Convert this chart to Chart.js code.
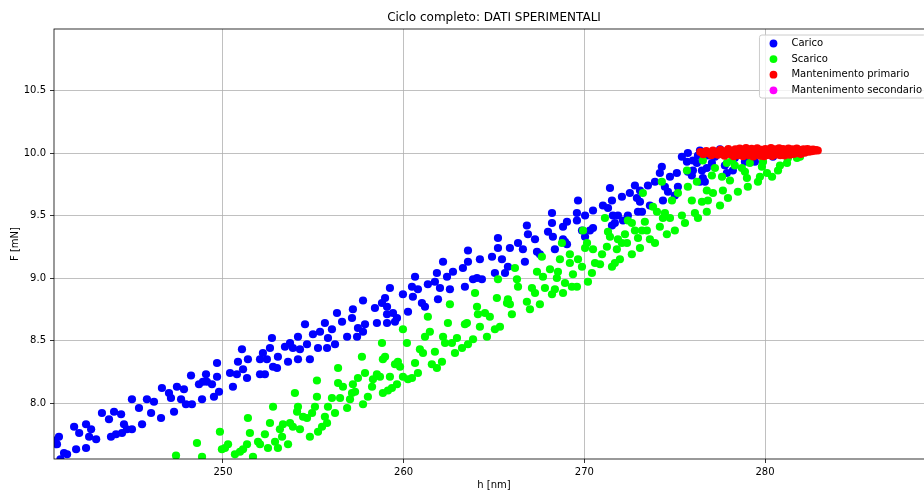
<!DOCTYPE html>
<html>
<head>
<meta charset="utf-8">
<script src="https://cdn.jsdelivr.net/npm/chart.js@4.4.0/dist/chart.umd.min.js"></script>
<style>
  html, body { margin: 0; padding: 0; background: #fff; overflow: hidden; }
  #wrap { width: 1000px; height: 491px; }
</style>
</head>
<body>
<div id="wrap"><canvas id="chart" width="1000" height="491"></canvas></div>
<script>
// [h (nm), F (mN)]
const carico = [
  [240.72, 7.70], [241.00, 7.55], [240.92, 7.73], [240.81, 7.67], [241.20, 7.60], [241.37, 7.59],
  [241.87, 7.63], [242.42, 7.64], [241.76, 7.81], [242.04, 7.76], [242.42, 7.83], [242.70, 7.79],
  [242.59, 7.73], [242.98, 7.71], [243.30, 7.92], [243.69, 7.87], [243.97, 7.93], [244.36, 7.91],
  [243.80, 7.73], [244.08, 7.75], [244.52, 7.83], [244.41, 7.76], [244.68, 7.79], [244.96, 7.79],
  [244.96, 8.03], [245.35, 7.96], [245.52, 7.83], [245.79, 8.03], [246.18, 8.01], [246.02, 7.92],
  [246.57, 7.88], [246.62, 8.12], [247.01, 8.08], [247.12, 8.04], [247.29, 7.93], [247.45, 8.13],
  [247.68, 8.03], [247.84, 8.11], [247.95, 7.99], [248.23, 8.22], [248.28, 7.99], [248.67, 8.15],
  [248.84, 8.03], [249.06, 8.23], [249.11, 8.17], [249.39, 8.15], [249.67, 8.32], [249.67, 8.21],
  [249.78, 8.09], [249.50, 8.05], [248.89, 8.17],
  [250.39, 8.24], [250.55, 8.13], [250.77, 8.23], [250.83, 8.33], [251.05, 8.43], [251.11, 8.27],
  [251.33, 8.20], [251.38, 8.35], [252.05, 8.23], [252.05, 8.35], [252.21, 8.40], [252.32, 8.23],
  [252.43, 8.35], [252.60, 8.44], [252.71, 8.52], [252.77, 8.29], [252.99, 8.28], [253.04, 8.37],
  [253.43, 8.45], [253.60, 8.33], [253.71, 8.48], [253.87, 8.44], [254.15, 8.53], [254.15, 8.35],
  [254.26, 8.43], [254.54, 8.63], [254.65, 8.47], [254.81, 8.35], [254.98, 8.55], [255.26, 8.44],
  [255.37, 8.57], [255.64, 8.64], [255.76, 8.44], [255.81, 8.52], [256.03, 8.59], [256.20, 8.47],
  [256.31, 8.72], [256.59, 8.65], [256.87, 8.53], [257.14, 8.68], [257.19, 8.75], [257.42, 8.53],
  [257.47, 8.60], [257.75, 8.82], [257.75, 8.57], [257.86, 8.63], [258.41, 8.76], [258.52, 8.64],
  [258.80, 8.80], [258.97, 8.84], [259.08, 8.71], [259.24, 8.92], [259.52, 8.65], [259.63, 8.68],
  [259.08, 8.77], [259.41, 8.72], [259.08, 8.64], [259.96, 8.87], [260.24, 8.73], [260.46, 8.93],
  [260.51, 8.85], [260.63, 9.01], [260.79, 8.91], [261.01, 8.80], [261.18, 8.77], [261.34, 8.95],
  [261.73, 8.97], [261.84, 9.04], [261.90, 8.83], [262.01, 8.92], [262.18, 9.13], [262.40, 9.01],
  [262.56, 8.91], [262.73, 9.05], [263.28, 9.08], [263.39, 8.93], [263.56, 9.22], [263.56, 9.13],
  [263.84, 8.99], [264.06, 9.00], [264.22, 9.15], [264.33, 8.99], [264.89, 9.17], [265.05, 9.04],
  [265.22, 9.32], [265.22, 9.24], [265.44, 9.15], [265.61, 9.04], [265.77, 9.09], [265.88, 9.24],
  [266.33, 9.28], [266.60, 9.23], [266.71, 9.13], [266.82, 9.42], [266.88, 9.35], [267.27, 9.31],
  [267.38, 9.21], [267.54, 9.19], [267.99, 9.37], [268.21, 9.52], [268.21, 9.44], [268.26, 9.33],
  [268.37, 9.23], [268.82, 9.41], [268.93, 9.29], [269.04, 9.45], [269.65, 9.62], [269.59, 9.52],
  [268.82, 9.31], [269.04, 9.27], [269.59, 9.46], [269.87, 9.38], [270.04, 9.33], [270.04, 9.50],
  [270.31, 9.38], [270.48, 9.40], [270.48, 9.54], [271.03, 9.58], [271.31, 9.56], [271.42, 9.72],
  [271.53, 9.62], [271.53, 9.42], [271.58, 9.50], [271.69, 9.44], [271.86, 9.50], [272.08, 9.65],
  [272.14, 9.46], [272.41, 9.50], [272.52, 9.68], [272.80, 9.74], [272.91, 9.64], [272.97, 9.53],
  [273.08, 9.61], [273.08, 9.70], [273.19, 9.53], [273.52, 9.74], [273.63, 9.58], [273.91, 9.77],
  [274.18, 9.84], [274.29, 9.89], [274.35, 9.62], [274.46, 9.73], [274.63, 9.69], [274.74, 9.81],
  [275.01, 9.66], [275.12, 9.84], [275.18, 9.73], [275.40, 9.97], [275.68, 9.93], [275.73, 10.00],
  [275.95, 9.82], [276.01, 9.86], [276.23, 9.92], [276.40, 9.77], [276.56, 9.80], [276.67, 9.77],
  [276.78, 9.88], [276.84, 9.98], [275.73, 9.85], [276.01, 9.94], [276.29, 9.98], [276.51, 9.86],
  [277.06, 9.92], [277.23, 9.97], [277.78, 9.90], [277.89, 9.84], [278.22, 9.86], [278.33, 9.96],
  [278.89, 9.93], [279.27, 9.94], [279.44, 9.93], [280.00, 9.98], [280.44, 9.97], [276.40, 10.02],
  [277.51, 10.03], [278.89, 10.03], [279.72, 10.02]
];

const scarico = [
  [247.40, 7.58], [248.56, 7.68], [248.84, 7.57], [249.94, 7.63],
  [249.83, 7.77], [250.11, 7.64], [250.28, 7.67], [250.66, 7.59], [250.94, 7.61], [251.11, 7.63],
  [251.33, 7.67], [251.38, 7.88], [251.49, 7.76], [251.66, 7.57], [251.94, 7.69], [252.05, 7.67],
  [252.32, 7.75], [252.49, 7.64], [252.60, 7.84], [252.77, 7.97], [252.88, 7.69], [253.04, 7.64],
  [253.15, 7.79], [253.27, 7.73], [253.32, 7.83], [253.60, 7.67], [253.71, 7.84], [253.87, 7.81],
  [253.98, 8.08], [254.10, 7.93], [254.15, 7.97], [254.26, 7.79], [254.43, 7.89], [254.65, 7.88],
  [254.81, 7.73], [254.93, 7.92], [255.09, 7.97], [255.20, 8.18], [255.20, 8.05], [255.26, 7.77],
  [255.48, 7.81], [255.64, 7.89], [255.76, 7.84], [255.81, 7.97], [256.03, 8.04], [256.20, 7.92],
  [256.37, 8.28], [256.37, 8.16], [256.48, 8.04], [256.64, 8.13], [256.87, 7.96], [257.03, 8.03],
  [257.14, 8.08], [257.19, 8.15], [257.31, 8.09], [257.47, 8.20], [257.69, 8.37], [257.75, 7.99],
  [257.86, 8.24], [258.02, 8.05], [258.25, 8.13], [258.30, 8.19], [258.52, 8.23], [258.69, 8.21],
  [258.80, 8.48], [258.85, 8.35], [258.85, 8.08], [258.97, 8.37], [259.24, 8.21], [259.35, 8.12],
  [259.52, 8.31], [259.63, 8.15],
  [259.13, 8.10], [259.68, 8.33], [259.80, 8.29], [259.96, 8.59], [259.96, 8.21], [260.18, 8.48],
  [260.24, 8.19], [260.46, 8.20], [260.63, 8.32], [260.79, 8.24], [260.90, 8.43], [261.07, 8.40],
  [261.18, 8.53], [261.34, 8.69], [261.45, 8.57], [261.56, 8.31], [261.73, 8.41], [261.84, 8.28],
  [262.12, 8.33], [262.18, 8.53], [262.29, 8.48], [262.45, 8.64], [262.56, 8.79], [262.67, 8.48],
  [262.84, 8.40], [262.95, 8.52], [263.23, 8.44], [263.39, 8.63], [263.50, 8.64], [263.56, 8.47],
  [263.84, 8.51], [263.95, 8.88], [264.06, 8.77], [264.11, 8.71], [264.22, 8.61], [264.50, 8.72],
  [264.61, 8.53], [264.77, 8.69], [265.05, 8.59], [265.16, 8.84], [265.22, 8.99], [265.33, 8.61],
  [265.72, 8.80], [265.77, 8.83], [265.88, 8.79], [265.99, 8.71], [266.16, 9.08], [266.27, 8.99],
  [266.33, 8.93], [266.82, 8.81], [266.99, 8.75], [267.10, 8.92], [267.27, 8.88], [267.38, 9.05],
  [267.54, 8.79], [267.65, 9.17], [267.71, 9.01], [267.82, 8.92], [268.10, 9.07], [268.21, 8.87],
  [268.37, 8.91], [268.48, 9.00], [268.54, 9.05], [268.65, 9.15], [268.76, 9.28], [268.82, 8.88],
  [268.93, 8.96], [269.20, 9.19], [269.31, 8.93], [269.37, 9.03], [269.59, 8.93], [269.65, 9.15],
  [269.20, 9.12], [269.87, 9.09], [269.93, 9.38], [270.04, 9.24], [270.15, 9.28], [270.20, 8.97],
  [270.42, 9.04], [270.48, 9.23], [270.59, 9.12], [270.87, 9.11], [270.98, 9.19], [271.14, 9.48],
  [271.25, 9.25], [271.31, 9.37], [271.42, 9.33], [271.53, 9.09], [271.69, 9.12], [271.80, 9.23],
  [271.86, 9.31], [271.97, 9.15], [272.08, 9.28], [272.25, 9.35], [272.36, 9.28], [272.41, 9.46],
  [272.63, 9.19], [272.63, 9.44], [272.80, 9.38], [272.97, 9.32], [273.08, 9.24], [273.19, 9.38],
  [273.24, 9.68], [273.35, 9.45], [273.46, 9.38], [273.63, 9.31], [273.80, 9.57], [273.91, 9.28],
  [274.02, 9.53], [274.18, 9.41], [274.29, 9.77], [274.35, 9.48], [274.46, 9.52], [274.57, 9.35],
  [274.74, 9.48], [274.85, 9.62], [275.01, 9.38], [275.18, 9.68], [275.40, 9.50], [275.57, 9.44],
  [275.68, 9.86], [275.73, 9.73], [275.95, 9.62], [276.12, 9.52], [276.23, 9.77], [276.29, 9.48],
  [276.51, 9.61], [276.56, 9.94], [276.78, 9.70], [276.78, 9.53], [276.84, 9.62],
  [277.06, 9.82], [277.12, 9.68], [277.23, 9.88], [277.51, 9.58], [277.62, 9.81], [277.67, 9.70],
  [277.89, 9.92], [277.95, 9.64], [278.06, 9.78], [278.17, 9.94], [278.33, 9.90], [278.50, 9.69],
  [278.72, 9.88], [278.89, 9.85], [279.00, 9.80], [279.05, 9.73], [279.16, 9.92], [279.61, 9.77],
  [279.72, 9.81], [279.83, 9.89], [279.89, 9.93], [280.11, 9.84], [280.39, 9.81], [280.72, 9.86],
  [280.83, 9.90], [281.22, 9.92], [281.27, 9.96], [281.77, 9.96], [281.94, 9.97]
];

const mantPrimario = [
  [276.42, 10.008], [276.58, 9.990], [276.75, 10.016], [276.90, 9.998], [277.03, 9.982],
  [277.12, 10.020], [277.28, 10.004], [277.40, 9.986], [277.53, 10.026], [277.63, 10.000],
  [277.76, 9.978], [277.86, 10.016], [277.97, 10.032], [278.08, 9.990], [278.15, 10.008],
  [278.27, 9.975], [278.36, 10.030], [278.44, 10.000], [278.52, 9.982], [278.60, 10.036],
  [278.71, 10.012], [278.79, 9.974], [278.88, 10.000], [278.95, 10.040], [279.03, 10.020],
  [279.11, 9.982], [279.20, 10.006], [279.26, 10.034], [279.35, 9.972], [279.42, 10.016],
  [279.50, 9.992], [279.57, 10.038], [279.66, 10.010], [279.73, 9.978], [279.80, 10.026],
  [279.88, 10.000], [279.95, 9.974], [280.02, 10.032], [280.10, 10.010], [280.17, 9.984],
  [280.25, 10.022], [280.33, 10.040], [280.40, 9.976], [280.48, 10.006], [280.55, 10.030],
  [280.63, 9.988], [280.70, 10.016], [280.78, 10.038], [280.85, 9.982], [280.93, 10.010],
  [281.00, 10.032], [281.08, 9.980], [281.15, 10.020], [281.23, 10.000], [281.30, 10.036],
  [281.38, 9.986], [281.45, 10.012], [281.53, 10.030], [281.60, 9.992], [281.68, 10.020],
  [281.76, 10.036], [281.83, 10.000], [281.90, 10.026], [281.98, 9.992], [282.05, 10.014],
  [282.13, 10.030], [282.20, 10.002], [282.28, 10.022], [282.35, 10.032], [282.43, 10.010],
  [282.50, 10.026], [282.58, 10.014], [282.66, 10.028], [282.74, 10.018], [282.82, 10.024],
  [282.92, 10.020]
];

const mantSecondario = [];

const seriesNames = ["Carico", "Scarico", "Mantenimento primario", "Mantenimento secondario"];
const seriesColors = ["#0000ff", "#00ff00", "#ff0000", "#ff00ff"];
const xTicks = [250, 260, 270, 280];
const yTicks = [8.0, 8.5, 9.0, 9.5, 10.0, 10.5];
const titleText = "Ciclo completo: DATI SPERIMENTALI";
const xLabel = "h [nm]";
const yLabel = "F [mN]";

const FONT = '"DejaVu Sans", sans-serif';
Chart.defaults.font.family = FONT;
Chart.defaults.font.size = 10;
Chart.defaults.color = "#000";

function toPoints(pairs) {
  return pairs.map(p => ({ x: p[0], y: p[1] }));
}

const allSeries = [carico, scarico, mantPrimario, mantSecondario];

// title, axis labels, frame and a matplotlib-like legend inside the plot
const decorations = {
  id: "decorations",
  afterDatasetsDraw(chart) {
    const { ctx, chartArea: a } = chart;
    ctx.save();
    ctx.strokeStyle = "#000";
    ctx.lineWidth = 0.8;
    ctx.strokeRect(a.left, a.top, a.right - a.left, a.bottom - a.top);
    ctx.restore();
  },
  afterDraw(chart) {
    const { ctx, chartArea: a } = chart;
    const cx = (a.left + a.right) / 2;
    ctx.save();
    ctx.fillStyle = "#000";
    ctx.textAlign = "center";
    ctx.textBaseline = "middle";
    ctx.font = "12px " + FONT;
    ctx.fillText(titleText, cx, 18);
    ctx.font = "10px " + FONT;
    ctx.fillText(xLabel, cx, 485);
    ctx.save();
    ctx.translate(15, (a.top + a.bottom) / 2);
    ctx.rotate(-Math.PI / 2);
    ctx.fillText(yLabel, 0, 0);
    ctx.restore();

    // legend
    ctx.font = "10px " + FONT;
    const textW = Math.max(...seriesNames.map(n => ctx.measureText(n).width));
    const w = 4 + 20 + 8 + textW + 4;
    const h = 63;
    const left = a.right - 8 - w;
    const top = a.top + 6;
    ctx.beginPath();
    ctx.roundRect(left, top, w, h, 2.5);
    ctx.fillStyle = "rgba(255,255,255,0.8)";
    ctx.fill();
    ctx.strokeStyle = "#cccccc";
    ctx.lineWidth = 1;
    ctx.stroke();
    ctx.textAlign = "left";
    seriesNames.forEach((name, i) => {
      const y = top + 8.5 + i * 15.6;
      ctx.beginPath();
      ctx.arc(left + 14, y, 3.9, 0, Math.PI * 2);
      ctx.fillStyle = seriesColors[i];
      ctx.fill();
      ctx.fillStyle = "#000";
      ctx.fillText(name, left + 32, y);
    });
    ctx.restore();
  }
};

new Chart(document.getElementById("chart"), {
  type: "scatter",
  data: {
    datasets: allSeries.map((s, i) => ({
      label: seriesNames[i],
      data: toPoints(s),
      backgroundColor: seriesColors[i],
      borderWidth: 0,
      pointRadius: 4.1,
      pointHoverRadius: 4.1,
      clip: 0,
      order: allSeries.length - i
    }))
  },
  options: {
    responsive: false,
    devicePixelRatio: 1,
    animation: false,
    events: [],
    layout: { padding: { left: 0, right: 66, top: 29, bottom: 0 } },
    plugins: {
      legend: { display: false },
      title: { display: false },
      tooltip: { enabled: false }
    },
    scales: {
      x: {
        type: "linear",
        min: 240.646,
        max: 289.354,
        afterBuildTicks: scale => { scale.ticks = xTicks.map(v => ({ value: v })); },
        afterFit: scale => { scale.height = 32; },
        ticks: { padding: 3, maxRotation: 0, callback: v => String(v), font: { size: 10 } },
        grid: { color: "#b0b0b0", lineWidth: 0.8, tickLength: 4, tickColor: "#000", tickWidth: 0.8 },
        border: { display: false }
      },
      y: {
        type: "linear",
        min: 7.552,
        max: 10.992,
        afterBuildTicks: scale => { scale.ticks = yTicks.map(v => ({ value: v })); },
        afterFit: scale => { scale.width = 54; },
        ticks: { padding: 4, callback: v => v.toFixed(1), font: { size: 10 } },
        grid: { color: "#b0b0b0", lineWidth: 0.8, tickLength: 4, tickColor: "#000", tickWidth: 0.8 },
        border: { display: false }
      }
    }
  },
  plugins: [decorations]
});
</script>
</body>
</html>
